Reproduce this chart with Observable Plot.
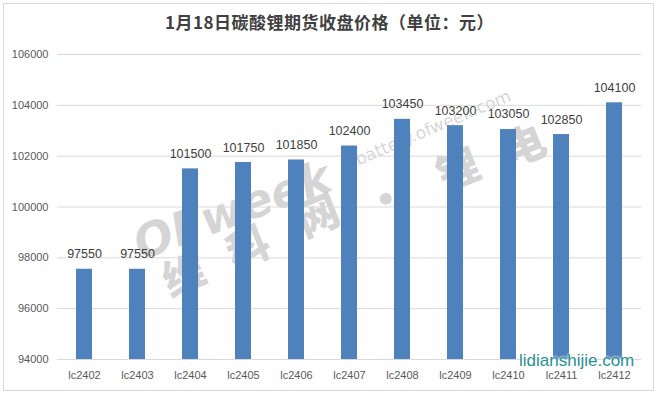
<!DOCTYPE html>
<html>
<head>
<meta charset="utf-8">
<script src="https://cdn.jsdelivr.net/npm/d3@7"></script>
<script src="https://cdn.jsdelivr.net/npm/@observablehq/plot@0.6"></script>
<style>
  html, body { margin: 0; padding: 0; background: #fff; }
  #wrap { position: relative; width: 659px; height: 395px; overflow: hidden; background: #fff; }
  #frame { position: absolute; left: 3px; top: 3px; width: 651px; height: 388px; border: 1px solid #d9d9d9; box-sizing: border-box; }
  #title { position: absolute; left: 0; top: 9px; width: 659px; text-align: center; font-family: "Noto Sans CJK SC", sans-serif; font-weight: bold; font-size: 17px; color: #404040; letter-spacing: 0.5px; }
  #chart { position: absolute; left: 0; top: 40px; }
  .wm { position: absolute; pointer-events: none; white-space: nowrap; line-height: 1; transform-origin: center center; color: rgba(135,135,135,0.36); }
  .cj { font-family: "Noto Sans CJK SC", sans-serif; font-size: 42px; font-weight: 900; }
</style>
</head>
<body>
<div id="wrap">
  <div id="frame"></div>
  <div class="wm" style="left:232px; top:210px; transform: translate(-50%,-50%) rotate(-20deg); font-family:'DejaVu Sans', sans-serif; font-size:46px; font-weight:bold; font-style:italic;">OFweek</div>
  <div class="wm" style="left:428px; top:130px; transform: translate(-50%,-50%) rotate(-23deg); font-family:'DejaVu Sans', sans-serif; font-size:17px;">| battery.ofweek.com</div>
  <div class="wm cj" style="left:183px; top:273px; transform: translate(-50%,-50%) rotate(-22deg);">维</div>
  <div class="wm cj" style="left:247px; top:245px; transform: translate(-50%,-50%) rotate(-22deg);">科</div>
  <div class="wm cj" style="left:317px; top:213px; transform: translate(-50%,-50%) rotate(-22deg);">网</div>
  <div class="wm cj" style="left:385px; top:197px; transform: translate(-50%,-50%) rotate(-22deg);">•</div>
  <div class="wm cj" style="left:457px; top:167px; transform: translate(-50%,-50%) rotate(-22deg);">锂</div>
  <div class="wm cj" style="left:523px; top:143px; transform: translate(-50%,-50%) rotate(-22deg);">电</div>
  <div id="title">1月18日碳酸锂期货收盘价格（单位：元）</div>
  <div id="chart"></div>
  <div class="wm" style="left:519px; top:352px; font-family:'Liberation Sans', sans-serif; font-size:17px; color:#2a8f94; text-shadow: 0 0 2px #fff, 0 0 3px #fff;">lidianshijie.com</div>
</div>
<script>
const contracts = ["lc2402","lc2403","lc2404","lc2405","lc2406","lc2407","lc2408","lc2409","lc2410","lc2411","lc2412"];
const prices = [97550, 97550, 101500, 101750, 101850, 102400, 103450, 103200, 103050, 102850, 104100];
const yTicks = [94000, 96000, 98000, 100000, 102000, 104000, 106000];

const data = contracts.map((c, i) => ({contract: c, price: prices[i]}));

const chart = Plot.plot({
  width: 659,
  height: 355,
  marginTop: 14,
  marginBottom: 36,
  marginLeft: 57,
  marginRight: 18,
  style: {fontFamily: "'Liberation Sans', sans-serif", fontSize: "11px", color: "#595959", background: "transparent"},
  x: {domain: contracts, paddingInner: 0.7, paddingOuter: 0.35, label: null, tickSize: 0, tickPadding: 12},
  y: {domain: [94000, 106000], ticks: yTicks, label: null, tickSize: 0, tickPadding: 9, tickFormat: d => String(d)},
  marks: [
    Plot.gridY(yTicks.filter(t => t > 94000), {stroke: "#d9d9d9", strokeOpacity: 1}),
    Plot.ruleY([94000], {stroke: "#d9d9d9"}),
    Plot.barY(data, {x: "contract", y1: 94000, y2: "price", fill: "#4f81bd"}),
    Plot.text(data, {x: "contract", y: "price", text: d => String(d.price), dy: -15, fontSize: 12.5, fill: "#404040"})
  ]
});
document.getElementById("chart").appendChild(chart);
</script>
</body>
</html>
